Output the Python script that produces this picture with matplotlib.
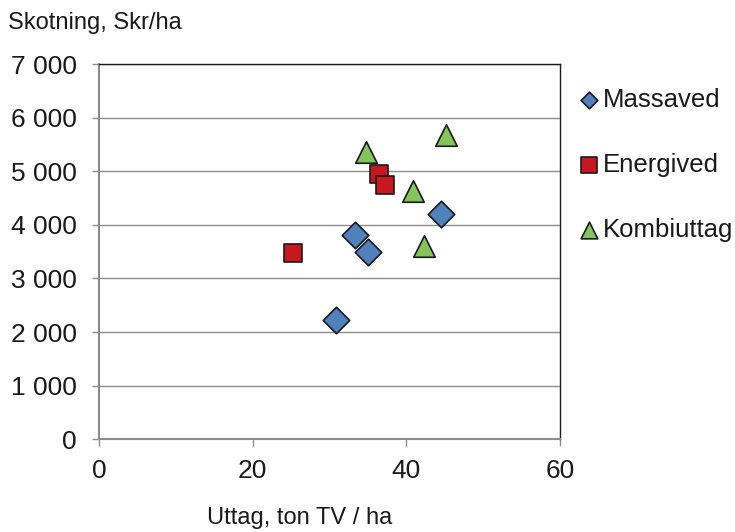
import matplotlib
matplotlib.use("Agg")
import matplotlib.pyplot as plt

plt.rcParams['font.family'] = ['Liberation Sans', 'DejaVu Sans']

# data
massaved_x = [33.3, 35.0, 44.5, 30.9]
massaved_y = [3810, 3495, 4210, 2225]
energived_x = [25.2, 36.4, 37.2]
energived_y = [3480, 4940, 4750]
kombi_x = [34.7, 45.1, 40.9, 42.3]
kombi_y = [5360, 5675, 4630, 3605]

xticks = [0, 20, 40, 60]
yticks = [0, 1000, 2000, 3000, 4000, 5000, 6000, 7000]
ytick_labels = ['0', '1 000', '2 000', '3 000', '4 000', '5 000', '6 000', '7 000']

fig = plt.figure(figsize=(7.35, 5.32), dpi=100)
ax = fig.add_axes([99/735, 1-439.3/532, (560-99)/735, (439.3-64)/532])

ax.scatter(massaved_x, massaved_y, marker='D', s=13.5**2, c='#4F81BD',
           edgecolors='#1a1a1a', linewidths=1.2, label='Massaved', zorder=3)
ax.scatter(energived_x, energived_y, marker='s', s=13**2, c='#C8171E',
           edgecolors='#1a1a1a', linewidths=1.2, label='Energived', zorder=3)
ax.scatter(kombi_x, kombi_y, marker='^', s=15.5**2, c='#83C55A',
           edgecolors='#1a1a1a', linewidths=1.2, label='Kombiuttag', zorder=3)

ax.set_xlim(0, 60)
ax.set_ylim(0, 7000)
ax.set_xticks(xticks)
ax.set_yticks(yticks)
ax.set_yticklabels(ytick_labels)
ax.grid(axis='y', color='#8c8c8c', linewidth=1.0)
ax.set_axisbelow(True)
ax.tick_params(axis='y', direction='out', length=5, width=1, color='#8c8c8c',
               labelsize=19, pad=11, labelcolor='#1a1a1a')
ax.tick_params(axis='x', direction='out', length=5, width=1, color='#8c8c8c',
               labelsize=19, pad=9, labelcolor='#1a1a1a')
for s in ['left', 'bottom']:
    ax.spines[s].set_color('#8c8c8c')
    ax.spines[s].set_linewidth(1.5)
for s in ['top', 'right']:
    ax.spines[s].set_color('#1a1a1a')
    ax.spines[s].set_linewidth(1.0)

fig.text(8/735, 1-23/532, 'Skotning, Skr/ha', fontsize=17, va='center',
         ha='left', color='#1a1a1a')
fig.text(300/735, 1-518/532, 'Uttag, ton TV / ha', fontsize=17, va='center',
         ha='center', color='#1a1a1a')

leg = ax.legend(loc='upper left', bbox_to_anchor=(580/735, 1-88/532),
                bbox_transform=fig.transFigure, frameon=False, fontsize=18.5,
                handlelength=0.7, handletextpad=0.2, borderpad=0,
                borderaxespad=0, labelspacing=1.6, scatterpoints=1)
for h, sz in zip(leg.legend_handles, [8.5**2, 12**2, 12**2]):
    h.set_sizes([sz])
for t in leg.get_texts():
    t.set_color('#1a1a1a')

fig.savefig('out.png', dpi=100)
